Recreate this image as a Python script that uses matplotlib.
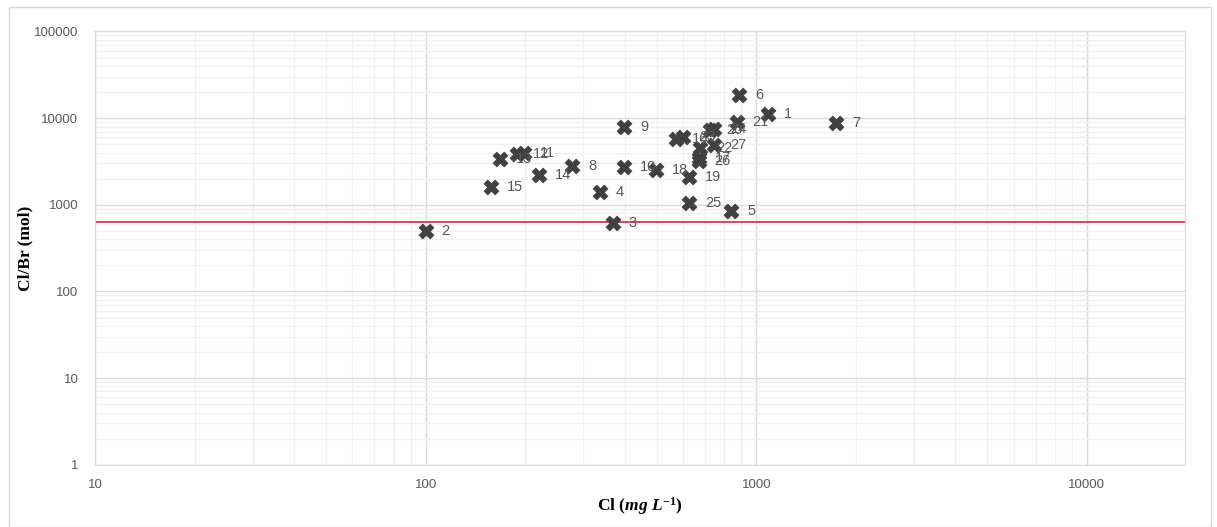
import matplotlib
matplotlib.use("Agg")
import matplotlib.pyplot as plt
from matplotlib.ticker import LogLocator, FixedLocator, NullFormatter
from matplotlib.patches import Rectangle

labels = ["1", "2", "3", "4", "5", "6", "7", "8", "9", "10", "11", "12", "13", "14",
          "15", "16", "17", "18", "19", "20", "21", "22", "23", "24", "25", "26", "27"]
cl = [1085, 100, 368, 336, 840, 886, 1740, 277, 398, 398, 198, 189, 168, 220,
      158, 571, 670, 496, 627, 724, 872, 675, 600, 745, 627, 670, 745]
cl_br = [11100, 497, 615, 1400, 850, 18500, 8780, 2800, 7890, 2720, 4000, 3850, 3370, 2200,
         1610, 5740, 3460, 2520, 2070, 7390, 9080, 4520, 6050, 7580, 1054, 3195, 4890]
seawater_ratio = 636

x_ticks = [10, 100, 1000, 10000]
y_ticks = [1, 10, 100, 1000, 10000, 100000]

plt.rcParams['mathtext.fontset'] = 'custom'
plt.rcParams['mathtext.rm'] = 'Liberation Serif:bold'
plt.rcParams['mathtext.bf'] = 'Liberation Serif:bold'
plt.rcParams['mathtext.it'] = 'Liberation Serif:bold:italic'
plt.rcParams['mathtext.bfit'] = 'Liberation Serif:bold:italic'

fig = plt.figure(figsize=(12.17, 5.27), dpi=100)
fig.patches.append(Rectangle((9 / 1217, 0.5 / 527), 1202 / 1217, 520 / 527,
                             transform=fig.transFigure, fill=False,
                             edgecolor='#d9d9d9', linewidth=1))
ax = fig.add_axes([95 / 1217, 1 - 464.7 / 527, 1090 / 1217, 433.2 / 527])
ax.set_xscale('log')
ax.set_yscale('log')
ax.set_xlim(10, 19800)
ax.set_ylim(1, 100000)

ax.xaxis.set_major_locator(FixedLocator(x_ticks))
ax.yaxis.set_major_locator(FixedLocator(y_ticks))
ax.xaxis.set_minor_locator(LogLocator(base=10, subs=range(2, 10)))
ax.yaxis.set_minor_locator(LogLocator(base=10, subs=range(2, 10)))
ax.xaxis.set_minor_formatter(NullFormatter())
ax.yaxis.set_minor_formatter(NullFormatter())
ax.set_xticklabels([str(v) for v in x_ticks])
ax.set_yticklabels([str(v) for v in y_ticks])

ax.grid(True, which='major', color='#d9d9d9', linewidth=1)
ax.grid(True, which='minor', color='#f0f0f0', linewidth=1)
ax.set_axisbelow(True)
for s in ax.spines.values():
    s.set_color('#d9d9d9')
ax.tick_params(which='both', length=0, labelsize=9.5, labelcolor='#595959')
for t in ax.get_xticklabels() + ax.get_yticklabels():
    t.set_family('Liberation Sans')
ax.tick_params(axis='x', pad=10)
ax.tick_params(axis='y', pad=12)

ax.axhline(seawater_ratio, color='#d9243a', linewidth=1.2, zorder=2)

ax.scatter(cl, cl_br, marker='X', s=115, color='#404040', edgecolors='#404040',
           linewidths=0.5, zorder=3)
for lab, xv, yv in zip(labels, cl, cl_br):
    ax.annotate(lab, (xv, yv), xytext=(11.5, 0), textcoords='offset points',
                ha='left', va='center', fontsize=10.5, color='#595959',
                family='Liberation Sans', zorder=4)

ax.set_xlabel(r'$\mathrm{Cl}\ (\mathbfit{mg\ L}^{-1})$', fontsize=12.5)
ax.xaxis.set_label_coords(0.5, -(495 - 464.7) / 433.2)
ax.set_ylabel('Cl/Br (mol)', fontsize=12.5, fontweight='bold', family='Liberation Serif')
ax.yaxis.set_label_coords(-(95 - 33) / 1090, 0.5)

fig.savefig('out.png', dpi=100)
